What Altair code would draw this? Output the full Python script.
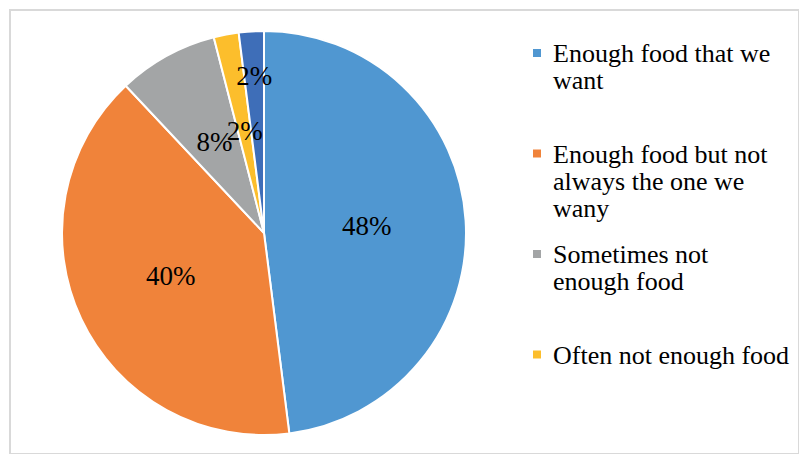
import altair as alt
import pandas as pd

# ---- data ----
categories = [
    "Enough food that we want",
    "Enough food but not always the one we wany",
    "Sometimes not enough food",
    "Often not enough food",
    "Unlabelled",
]
values = [48, 40, 8, 2, 2]
colors = ["#5097D1", "#F0833A", "#A3A5A6", "#FCBE2C", "#3E6EB8"]

legend_categories = categories[:4]
legend_lines = [
    "Enough food that we\nwant",
    "Enough food but not\nalways the one we\nwany",
    "Sometimes not\nenough food",
    "Often not enough food",
]

df = pd.DataFrame({"category": categories, "value": values, "idx": list(range(len(categories)))})
leg = pd.DataFrame({"category": legend_categories, "text": legend_lines})

FONT = "Liberation Serif"
W, H = 789, 444
CX, CY = 254, 223

color_scale = alt.Scale(domain=categories, range=colors)

base = alt.Chart(df).encode(
    theta=alt.Theta("value:Q", stack=True),
    order=alt.Order("idx:Q"),
    x=alt.value(CX),
    y=alt.value(CY),
)

pie = base.mark_arc(radius=202, stroke="white", strokeWidth=2).encode(
    color=alt.Color("category:N", scale=color_scale, legend=None),
)

labels_main = base.transform_calculate(
    lbl=f"datum.category == '{categories[4]}' ? '' : datum.value + '%'"
).mark_text(radius=103, font=FONT, fontSize=27).encode(
    text="lbl:N", color=alt.value("black"))

labels_small = base.transform_calculate(
    lbl=f"datum.category == '{categories[4]}' ? datum.value + '%' : ''"
).mark_text(radius=156, font=FONT, fontSize=27).encode(
    text="lbl:N", color=alt.value("black"))

ypos = alt.Y("category:N", sort=legend_categories,
             scale=alt.Scale(domain=legend_categories, range=[43, 344.5], padding=0),
             axis=None)

leg_sq = alt.Chart(leg).mark_square(size=64, opacity=1).encode(
    x=alt.value(527),
    y=ypos,
    color=alt.Color("category:N", scale=color_scale, legend=None),
)

leg_txt = alt.Chart(leg).mark_text(
    align="left", baseline="top", dy=-12, font=FONT, fontSize=26,
    lineHeight=27, lineBreak="\n"
).encode(
    x=alt.value(543),
    y=ypos,
    text="text:N",
    color=alt.value("black"),
)

chart = alt.layer(pie, labels_main, labels_small, leg_sq, leg_txt).properties(
    width=W, height=H,
    padding={"left": 2, "top": 2, "right": 0, "bottom": 0},
).configure(font=FONT).configure_text(font=FONT).configure_view(
    stroke="#D9D9D9", strokeWidth=2)

chart.save("out.html", embed_options={"renderer": "svg", "actions": False})
